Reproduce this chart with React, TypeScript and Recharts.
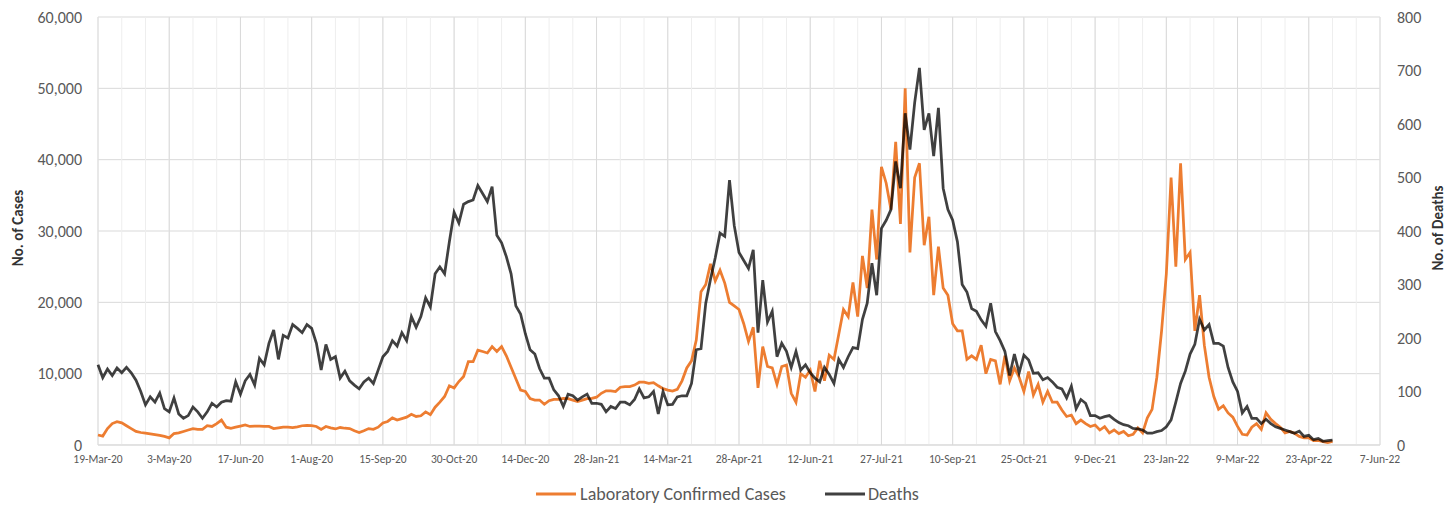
import { LineChart, Line, XAxis, YAxis, CartesianGrid, ReferenceLine, Legend } from "recharts";

// daily series sampled every 3 days, starting 19-Mar-20
const STEP_DAYS = 3;
const CASES_NAME = "Laboratory Confirmed Cases";
const DEATHS_NAME = "Deaths";
const ORANGE = "#ED7D31";
const FONT = "Carlito, Lato, sans-serif";

const tickLabels = [
  "19-Mar-20", "3-May-20", "17-Jun-20", "1-Aug-20", "15-Sep-20", "30-Oct-20", "14-Dec-20",
  "28-Jan-21", "14-Mar-21", "28-Apr-21", "12-Jun-21", "27-Jul-21", "10-Sep-21", "25-Oct-21",
  "9-Dec-21", "23-Jan-22", "9-Mar-22", "23-Apr-22", "7-Jun-22",
];

const casesTicks = [0, 10000, 20000, 30000, 40000, 50000, 60000];
const deathsTicks = [0, 100, 200, 300, 400, 500, 600, 700, 800];

const cases = [
  1400, 1250, 2300, 3000, 3270, 3100, 2700, 2300, 1900, 1750,
  1650, 1550, 1450, 1350, 1200, 1000, 1600, 1700, 1900, 2100,
  2300, 2200, 2200, 2700, 2600, 3000, 3500, 2500, 2350, 2500,
  2650, 2800, 2600, 2650, 2650, 2600, 2600, 2300, 2400, 2500,
  2500, 2450, 2550, 2700, 2750, 2700, 2600, 2200, 2600, 2400,
  2250, 2450, 2350, 2300, 2000, 1750, 2000, 2300, 2200, 2500,
  3100, 3300, 3800, 3500, 3700, 3900, 4300, 4000, 4100, 4650,
  4250, 5300, 6000, 6800, 8300, 8000, 8900, 9600, 11680, 11680,
  13300, 13100, 12900, 13790, 13100, 13790, 12500, 10900, 9300, 7700,
  7500, 6500, 6300, 6300, 5700, 6200, 6400, 6400, 6540, 6500,
  6300, 6100, 6300, 6500, 6540, 6700, 7250, 7600, 7600, 7500,
  8100, 8180, 8200, 8400, 8800, 8800, 8650, 8750, 8300, 7900,
  7700, 7550, 7800, 9000, 10800, 11800, 14700, 21500, 22500, 25400,
  23000, 24500, 22700, 20000, 19500, 19000, 17000, 14500, 16500, 8000,
  13800, 11000, 10800, 8500, 11000, 11200, 7250, 6000, 10000, 9500,
  10500, 7500, 11800, 9000, 12600, 12000, 15500, 19000, 18000, 22800,
  18000, 26500, 22000, 33000, 26000, 39000, 36700, 33000, 42500, 31000,
  50000, 27000, 37500, 39500, 28000, 32000, 21000, 27800, 22000, 21000,
  17000, 16000, 16000, 12000, 12500, 12000, 14000, 10000, 12000, 11800,
  8500, 12500, 9000, 10800, 9500, 7500, 10300, 7000, 8500, 6000,
  7500, 6000, 6000, 4900, 4000, 4200, 3000, 3500, 3000, 2600,
  2800, 2100, 2570, 1700, 2100, 1600, 1900, 1300, 1500, 2400,
  1700, 3800, 5000, 9500, 16000, 24000, 37500, 25000, 39500, 26000,
  27000, 16000, 21000, 14000, 9500, 6800, 5000, 5500, 4500, 3900,
  2600, 1500, 1400, 2500, 3000, 2200, 4500, 3600, 3000, 2500,
  1700, 1900, 1640, 1200, 1000, 1000, 600, 650, 480, 350,
  500,
];

const deaths = [
  150, 126, 142, 130, 144, 135, 145, 135, 121, 100,
  75, 90, 80, 97, 68, 62, 88, 58, 50, 55,
  71, 62, 50, 62, 78, 71, 80, 83, 82, 118,
  95, 120, 132, 112, 162, 150, 190, 215, 160, 205,
  200, 225, 218, 210, 225, 218, 190, 140, 188, 160,
  165, 125, 138, 120, 112, 105, 118, 125, 115, 140,
  165, 175, 195, 185, 210, 195, 240, 220, 240, 275,
  258, 320, 333, 320, 380, 435, 415, 450, 455, 458,
  485, 470, 455, 483, 392, 378, 352, 320, 260, 245,
  208, 178, 170, 143, 125, 125, 103, 92, 72, 95,
  92, 84, 90, 95, 78, 78, 76, 62, 72, 68,
  80, 80, 75, 85, 105, 88, 90, 100, 58, 100,
  75, 76, 90, 92, 92, 115, 178, 180, 265, 310,
  350, 396, 390, 495, 410, 360, 345, 330, 365, 210,
  308, 230, 250, 165, 190, 175, 145, 175, 140, 150,
  135, 125, 118, 145, 132, 115, 160, 145, 165, 182,
  180, 235, 265, 340, 280, 405, 420, 440, 530, 480,
  620, 552, 640, 705, 589, 620, 540, 630, 480, 440,
  420, 380, 300, 286, 255, 250, 234, 222, 265, 212,
  195, 175, 130, 170, 135, 168, 159, 134, 135, 122,
  126, 118, 108, 105, 88, 110, 68, 85, 78, 55,
  55, 50, 53, 55, 48, 42, 38, 36, 31, 30,
  28, 22, 22, 25, 27, 34, 47, 80, 115, 138,
  170, 188, 235, 215, 225, 190, 190, 185, 145, 118,
  100, 60, 72, 50, 50, 40, 48, 40, 34, 31,
  28, 25, 22, 26, 16, 18, 10, 12, 7, 8,
  9,
];

const data = cases.map((c, i) => ({ day: i * STEP_DAYS, cases: c, deaths: deaths[i] }));

// minor gridlines every 15 days, labelled ticks every 45
const gridDays = Array.from({ length: 55 }, (_, i) => i * 15);
const majorDays = tickLabels.map((_, i) => i * 45);

const tickStyle = { fill: "#595959", fontFamily: FONT, fontSize: 16 };
const titleStyle = { fill: "#333", fontFamily: FONT, fontSize: 15, fontWeight: 700 };

function AxisTitle({ x, y, text }: { x: number; y: number; text: string }) {
  return (
    <text x={x} y={y} transform={`rotate(-90 ${x} ${y})`} textAnchor="middle" dominantBaseline="central" style={titleStyle}>
      {text}
    </text>
  );
}

function ChartLegend() {
  return (
    <div style={{ height: 30, paddingTop: 8, boxSizing: "border-box", display: "flex", justifyContent: "center", alignItems: "center", fontFamily: FONT, fontSize: 18, color: "#595959" }}>
      <svg width={40} height={4}><line x1={0} y1={2} x2={40} y2={2} stroke={ORANGE} strokeWidth={3} /></svg>
      <span style={{ marginLeft: 4 }}>{CASES_NAME}</span>
      <svg width={40} height={4} style={{ marginLeft: 39 }}><line x1={0} y1={2} x2={40} y2={2} stroke="#404040" strokeWidth={3} /></svg>
      <span style={{ marginLeft: 3 }}>{DEATHS_NAME}</span>
    </div>
  );
}

export default function App() {
  return (
    <div style={{ width: 1455, height: 505, background: "#fff" }}>
      <style>{"body{margin:0}"}</style>
      <LineChart width={1455} height={505} data={data} margin={{ top: 17, right: 0, bottom: 0, left: 0 }}>
        <CartesianGrid yAxisId="left" vertical={false} stroke="#d9d9d9" />
        <CartesianGrid yAxisId="left" horizontal={false} stroke="#eeeeee" />
        {majorDays.map((d) => (
          <ReferenceLine key={d} x={d} yAxisId="left" stroke="#d9d9d9" />
        ))}
        <XAxis
          dataKey="day"
          type="number"
          domain={[0, 810]}
          ticks={gridDays}
          interval={0}
          tickFormatter={(d: number) => (d % 45 === 0 ? tickLabels[d / 45] : "")}
          tick={{ ...tickStyle, fontSize: 11.5 }}
          tickLine={false}
          tickSize={0}
          tickMargin={10}
          axisLine={{ stroke: "#d9d9d9" }}
          height={30}
        />
        <YAxis
          yAxisId="left"
          domain={[0, 60000]}
          ticks={casesTicks}
          tickFormatter={(v: number) => v.toLocaleString("en-US")}
          tick={tickStyle}
          tickLine={false}
          tickSize={0}
          tickMargin={16}
          axisLine={false}
          width={98}
          label={{ content: () => <AxisTitle x={18} y={228} text="No. of Cases" /> }}
        />
        <YAxis
          yAxisId="right"
          orientation="right"
          domain={[0, 800]}
          ticks={deathsTicks}
          tick={tickStyle}
          tickLine={false}
          tickSize={0}
          tickMargin={17}
          axisLine={false}
          width={75}
          label={{ content: () => <AxisTitle x={1438} y={228} text="No. of Deaths" /> }}
        />
        <Legend verticalAlign="bottom" content={() => <ChartLegend />} />
        <Line
          yAxisId="left"
          type="linear"
          dataKey="cases"
          name={CASES_NAME}
          stroke={ORANGE}
          strokeWidth={2.75}
          dot={false}
          isAnimationActive={false}
        />
        <Line
          yAxisId="right"
          type="linear"
          dataKey="deaths"
          name={DEATHS_NAME}
          stroke="#000"
          strokeOpacity={0.75}
          strokeWidth={2.75}
          dot={false}
          isAnimationActive={false}
        />
      </LineChart>
    </div>
  );
}
